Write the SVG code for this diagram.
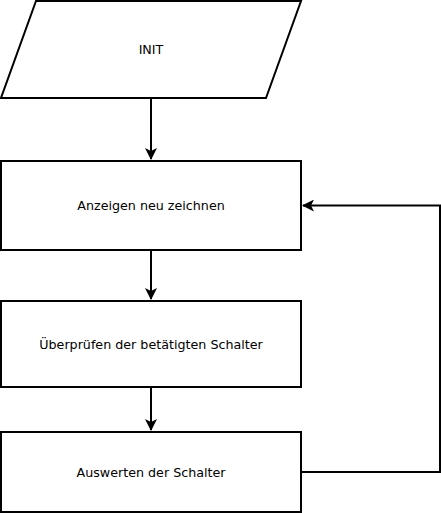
<svg xmlns="http://www.w3.org/2000/svg" width="441" height="513" viewBox="0 0 441 513">
<defs>
<style>
.n{fill:#fff;stroke:#000;stroke-width:2}
.t{font-family:"DejaVu Sans",sans-serif;font-size:12.7px;fill:#000;text-anchor:middle;dominant-baseline:central}
.c{fill:none;stroke:#000;stroke-width:2}
</style>
<marker id="a" viewBox="0 0 12 12" refX="11" refY="6" markerWidth="12" markerHeight="12" markerUnits="userSpaceOnUse" orient="auto">
<path d="M0,0 L12,6 L0,12 L3,6 Z" fill="#000"/>
</marker>
</defs>
<g id="connectors">
<path class="c" d="M151,98 V159" marker-end="url(#a)"/>
<path class="c" d="M151,250 V299" marker-end="url(#a)"/>
<path class="c" d="M151,387 V430" marker-end="url(#a)"/>
<path class="c" d="M301,472 H440 V205.5 H303" marker-end="url(#a)"/>
</g>
<g id="init">
<path class="n" d="M36,1 H301 L266,98 H1 Z"/>
<text class="t" x="151" y="49.5">INIT</text>
</g>
<g id="anzeigen">
<rect class="n" x="1" y="161" width="300" height="89"/>
<text class="t" x="151" y="205">Anzeigen neu zeichnen</text>
</g>
<g id="ueberpruefen">
<rect class="n" x="1" y="301" width="300" height="86"/>
<text class="t" x="151" y="344">Überprüfen der betätigten Schalter</text>
</g>
<g id="auswerten">
<rect class="n" x="1" y="432" width="300" height="80"/>
<text class="t" x="151" y="472">Auswerten der Schalter</text>
</g>
</svg>
